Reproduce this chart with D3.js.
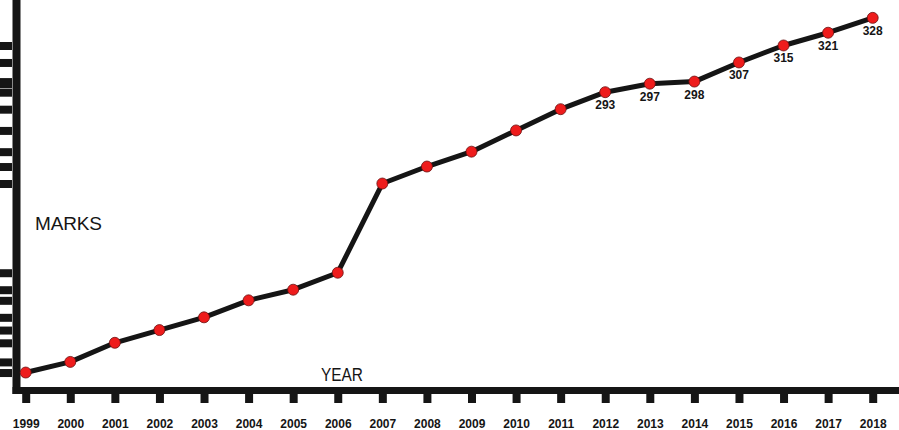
<!DOCTYPE html>
<html><head><meta charset="utf-8">
<script src="https://cdn.jsdelivr.net/npm/d3@7"></script>
<style>
html,body{margin:0;padding:0;background:#fff;}
svg{display:block;}
</style></head>
<body>
<svg id="chart" width="899" height="430"></svg>
<script>
const years = ["1999","2000","2001","2002","2003","2004","2005","2006","2007","2008","2009","2010","2011","2012","2013","2014","2015","2016","2017","2018"];
const marks = [161,166,175,181,187,195,200,208,250,258,265,275,285,293,297,298,307,315,321,328];
const labeledYears = ["2012","2013","2014","2015","2016","2017","2018"];
const yTickYears = ["1999","2000","2001","2002","2003","2004","2005","2006","2007","2008","2009","2010","2011","2012","2013","2014","2015","2016"];

const W = 899, H = 430;
const ink = "#151515";
const svg = d3.select("#chart");

const x = d3.scalePoint().domain(years).range([25.7, 872.7]);
const y = d3.scaleLinear().domain([150, 335]).range([395.9, 3.0]);

// Y axis ticks (at data values)
const yTicks = yTickYears.map(yr => marks[years.indexOf(yr)]);
const gy = svg.append("g").attr("transform", "translate(12,0)")
  .call(d3.axisLeft(y).tickValues(yTicks).tickSize(12).tickFormat(""));
gy.select(".domain").remove();
gy.selectAll(".tick line").attr("stroke", ink).attr("stroke-width", 8);

// Y axis line
svg.append("rect").attr("x", 12.5).attr("y", 0).attr("width", 8).attr("height", 394).attr("fill", ink);

// X axis
const gx = svg.append("g").attr("transform", "translate(0,394)")
  .call(d3.axisBottom(x).tickSize(9).tickPadding(16.5));
gx.select(".domain").remove();
gx.selectAll(".tick line").attr("stroke", ink).attr("stroke-width", 8);
gx.selectAll(".tick text")
  .attr("fill", ink)
  .attr("font-family", "Arial, 'Liberation Sans', sans-serif")
  .attr("font-size", 12).attr("font-weight", "bold");
svg.append("rect").attr("x", 12.5).attr("y", 387).attr("width", W - 12.5).attr("height", 7).attr("fill", ink);

// axis titles
svg.append("text").attr("x", 35).attr("y", 230)
  .attr("font-family", "Arial, 'Liberation Sans', sans-serif").attr("font-size", 19)
  .attr("fill", ink).attr("textLength", 67).text("MARKS");
svg.append("text").attr("x", 321).attr("y", 381)
  .attr("font-family", "Arial, 'Liberation Sans', sans-serif").attr("font-size", 19)
  .attr("fill", ink).attr("textLength", 42).attr("lengthAdjust", "spacingAndGlyphs").text("YEAR");

// line
const data = years.map((yr, i) => ({year: yr, v: marks[i]}));
svg.append("path").datum(data)
  .attr("fill", "none").attr("stroke", ink).attr("stroke-width", 5)
  .attr("stroke-linejoin", "round")
  .attr("d", d3.line().x(d => x(d.year)).y(d => y(d.v)));

// points
svg.selectAll("circle.pt").data(data).join("circle")
  .attr("class", "pt")
  .attr("cx", d => x(d.year)).attr("cy", d => y(d.v)).attr("r", 5.5)
  .attr("fill", "#ee1c1c").attr("stroke", "#6a1010").attr("stroke-width", 0.8);

// labels
svg.selectAll("text.lbl").data(data.filter(d => labeledYears.includes(d.year))).join("text")
  .attr("class", "lbl")
  .attr("x", d => x(d.year)).attr("y", d => y(d.v) + 17)
  .attr("text-anchor", "middle")
  .attr("font-family", "Arial, 'Liberation Sans', sans-serif")
  .attr("font-size", 12).attr("font-weight", "bold").attr("fill", ink)
  .text(d => d.v);
</script>
</body></html>
